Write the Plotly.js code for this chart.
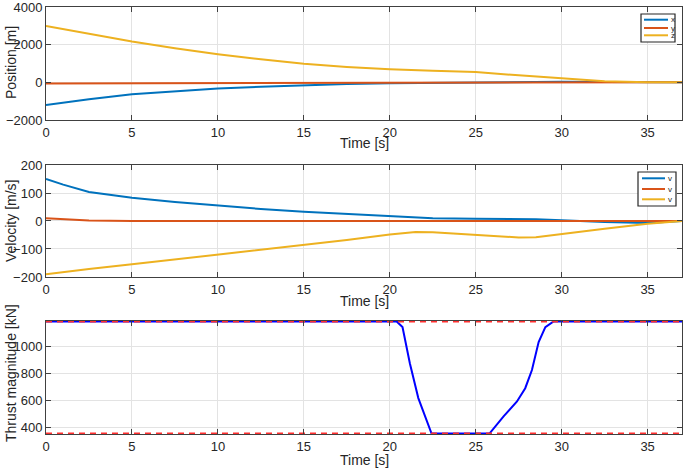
<!DOCTYPE html>
<html>
<head>
<meta charset="utf-8">
<script src="https://cdn.plot.ly/plotly-3.0.1.min.js"></script>
<style>
  html, body { margin: 0; padding: 0; background: #fff; }
  #myDiv { width: 685px; height: 476px; }
</style>
</head>
<body>
<div id="myDiv"></div>
<script>
// position [m]
var tPos = [0, 2.5, 5, 7.5, 10, 12.5, 15, 17.5, 20, 22.5, 25, 27.5, 30, 32.5, 35, 37];
var posX = [-1205, -900, -640, -470, -335, -235, -155, -95, -50, -20, 5, 20, 30, 15, 0, 0];
var posY = [-60, -55, -52, -50, -50, -50, -50, -50, -45, -40, -35, -30, -20, -10, 0, 0];
var posZ = [3000, 2570, 2165, 1810, 1490, 1220, 985, 820, 690, 610, 548, 372, 197, 60, 5, 0];

// velocity [m/s]
var tVel = [0, 1, 2.5, 5, 7.5, 10, 12.5, 15, 17.5, 20, 21.5, 22.5, 25, 27.5, 28.5, 30, 32.5, 35, 37];
var velX = [150, 130, 104, 83, 68, 55, 43, 33, 25, 17, 12, 10, 8, 7, 6, 3, -4, -7, 0];
var velY = [10, 6, 2, 0, 0, 0, 0, 0, 0, 0, 0, 0, 0, 0, 0, 0, 0, 0, 0];
var velZ = [-190, -182, -172, -155, -138, -121, -103, -85, -68, -48, -39, -40, -50, -59, -58, -46, -28, -10, 0];

// thrust [kN]
var tThr = [0, 20.4, 20.74, 21.17, 21.66, 22.43, 25.8, 26.62, 27.4, 27.88, 28.27, 28.66, 29.05, 29.53, 37];
var thrust = [1182, 1182, 1140, 872, 616, 354.6, 354.6, 481, 591, 689, 823, 1030, 1140, 1182, 1182];
var tBound = [0, 37];
var thrustMax = 1182;
var thrustMin = 354.6;

var posNames = ['x', 'y', 'z'];
var velNames = ['v', 'v', 'v'];

var cBlue = '#0072BD', cRed = '#D95319', cYel = '#EDB120';
var txt = '#262626';

function line(x, y, color, xa, ya) {
  return {
    x: x, y: y, mode: 'lines', type: 'scatter', showlegend: false,
    line: {color: color, width: 2}, xaxis: xa, yaxis: ya
  };
}

var data = [
  line(tPos, posX, cBlue, 'x', 'y'),
  line(tPos, posY, cRed, 'x', 'y'),
  line(tPos, posZ, cYel, 'x', 'y'),
  line(tVel, velX, cBlue, 'x2', 'y2'),
  line(tVel, velY, cRed, 'x2', 'y2'),
  line(tVel, velZ, cYel, 'x2', 'y2'),
  line(tThr, thrust, '#0000FF', 'x3', 'y3'),
  {x: tBound, y: [thrustMax, thrustMax], mode: 'lines', xaxis: 'x3', yaxis: 'y3', showlegend: false,
   line: {color: '#FF3030', width: 2, dash: '6px,5px'}},
  {x: tBound, y: [thrustMin, thrustMin], mode: 'lines', xaxis: 'x3', yaxis: 'y3', showlegend: false,
   line: {color: '#FF3030', width: 2, dash: '6px,5px'}}
];

function xax(anchor) {
  return {
    anchor: anchor, domain: [0, 1], range: [0, 37], dtick: 5,
    showline: true, mirror: 'ticks', linecolor: '#404040', linewidth: 1,
    ticks: 'inside', ticklen: 5, tickcolor: '#404040',
    showgrid: true, gridcolor: '#e3e3e3', zeroline: false,
    tickfont: {size: 13, color: txt}
  };
}
function yax(anchor, domain, range, tickvals) {
  return {
    anchor: anchor, domain: domain, range: range, tickvals: tickvals,
    showline: true, mirror: 'ticks', linecolor: '#404040', linewidth: 1,
    ticks: 'inside', ticklen: 5, tickcolor: '#404040',
    showgrid: true, gridcolor: '#e3e3e3', zeroline: false,
    ticklabeloverflow: 'allow',
    tickfont: {size: 13, color: txt}
  };
}

// pixel -> paper helpers (plot area: x 46..682, y 7..434)
function px(v) { return (v - 46) / 636; }
function py(v) { return (434 - v) / 427; }

var shapes = [];
var annotations = [];

function addLegend(box, lineX, rows, names, colors) {
  shapes.push({type: 'rect', xref: 'paper', yref: 'paper',
    x0: px(box[0]), x1: px(box[1]), y0: py(box[2]), y1: py(box[3]),
    fillcolor: '#fff', line: {color: '#262626', width: 1.2}});
  for (var i = 0; i < rows.length; i++) {
    shapes.push({type: 'line', xref: 'paper', yref: 'paper',
      x0: px(lineX[0]), x1: px(lineX[1]), y0: py(rows[i]), y1: py(rows[i]),
      line: {color: colors[i], width: 2}});
    annotations.push({text: names[i], xref: 'paper', yref: 'paper', x: px(lineX[1] + 2), y: py(rows[i]),
      xanchor: 'left', yanchor: 'middle', showarrow: false, borderpad: 0,
      font: {size: 8, color: txt}});
  }
}
addLegend([641, 675, 14, 42], [644, 668], [19.7, 28, 35.3], posNames, [cBlue, cRed, cYel]);
addLegend([638, 676, 172, 206], [642, 665], [178.3, 189, 199.3], velNames, [cBlue, cRed, cYel]);

function title(text, x, y, angle) {
  annotations.push({text: text, xref: 'paper', yref: 'paper', x: px(x), y: py(y),
    xanchor: 'center', yanchor: 'middle', textangle: angle, showarrow: false,
    font: {size: 14, color: txt}});
}
title('Position [m]', 11, 63, -90);
title('Velocity [m/s]', 11, 221, -90);
title('Thrust magnitude [kN]', 11, 373, -90);
title('Time [s]', 364, 143, 0);
title('Time [s]', 364, 301, 0);
title('Time [s]', 364, 460, 0);

var layout = {
  width: 685, height: 476,
  margin: {l: 46, r: 3, t: 7, b: 42},
  paper_bgcolor: '#fff', plot_bgcolor: '#fff',
  font: {family: 'Liberation Sans, Arial, sans-serif', color: txt},
  showlegend: false,
  xaxis: xax('y'),
  yaxis: yax('x', [0.7354, 1], [-2002, 4002], [-2000, 0, 2000, 4000]),
  xaxis2: xax('y2'),
  yaxis2: yax('x2', [0.3677, 0.630], [-200.2, 200.2], [-200, -100, 0, 100, 200]),
  xaxis3: xax('y3'),
  yaxis3: yax('x3', [0, 0.2646], [351, 1185], [400, 600, 800, 1000]),
  shapes: shapes,
  annotations: annotations
};

Plotly.newPlot('myDiv', data, layout, {displayModeBar: false, staticPlot: true});
</script>
</body>
</html>
